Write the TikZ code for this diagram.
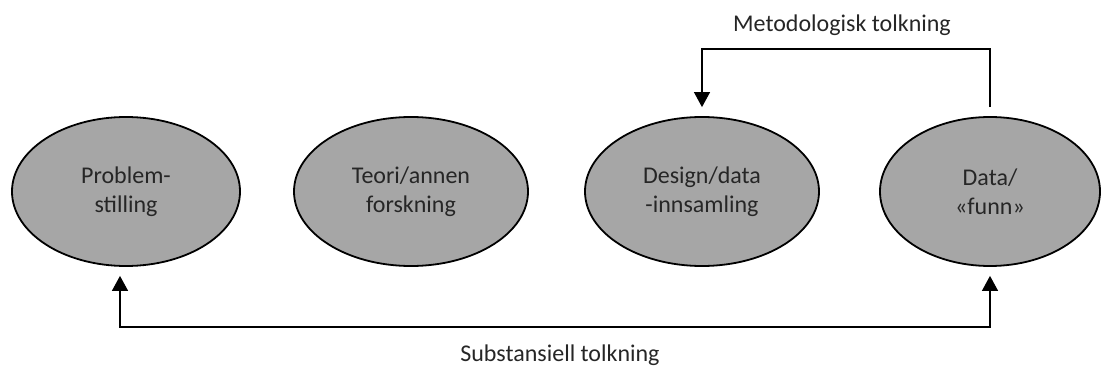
\documentclass[tikz,border=0pt]{standalone}
\usepackage{fontspec}
\setmainfont{Carlito}
\usetikzlibrary{shapes.geometric,arrows.meta}
\definecolor{fillgray}{HTML}{A6A6A6}
\definecolor{txt}{HTML}{262626}
\begin{document}
\begin{tikzpicture}[x=1pt,y=-1pt,
  oval/.style={ellipse, draw=black, line width=1.8pt, fill=fillgray, minimum height=149pt, inner sep=0pt, align=center, text=txt, font=\fontsize{24}{29}\selectfont},
  lbl/.style={text=txt, font=\fontsize{24}{29}\selectfont, inner sep=0pt},
  conn/.style={line width=1.2pt, draw=black},
  >={Triangle[width=16pt,length=15pt]}
]
\useasboundingbox (0,0) rectangle (1101,374);
\node[oval, minimum width=228pt] (e1) at (126,191.5) {Problem-\\stilling};
\node[oval, minimum width=234pt] (e2) at (411,191.5) {Teori/annen\\forskning};
\node[oval, minimum width=234pt] (e3) at (702,191.5) {Design/data\\-innsamling};
\node[oval, minimum width=220pt] (e4) at (990,191.5) {Data/\\«funn»};
\node[lbl] (m) at (842,25) {Metodologisk tolkning};
\node[lbl] (s) at (560,355) {Substansiell tolkning};
\draw[conn, <->, shorten <=9pt, shorten >=9pt] ([xshift=-6pt]e1.south) -- ++(0,60) -| (e4.south);
\draw[conn, ->, shorten <=9pt, shorten >=9pt] (e4.north) -- ++(0,-67) -| (e3.north);
\end{tikzpicture}
\end{document}
